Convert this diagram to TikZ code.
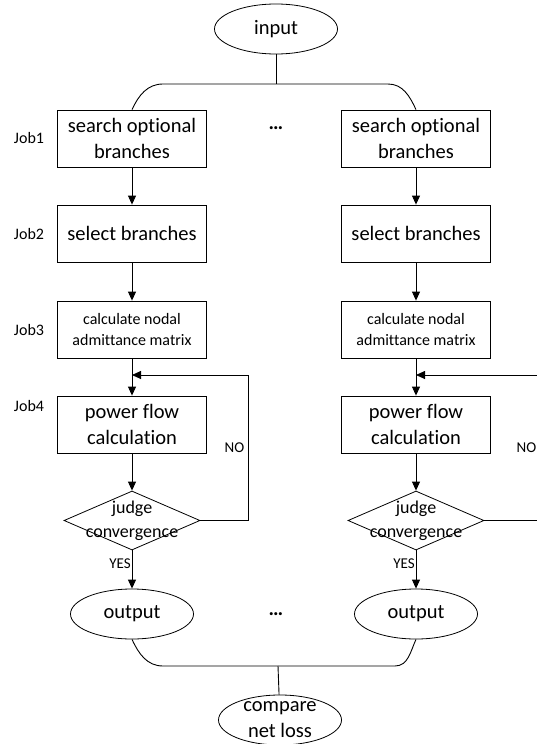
\documentclass[tikz,border=0pt]{standalone}
\usepackage{fontspec}
\setmainfont{Carlito}[Ligatures={NoCommon}]
\usetikzlibrary{positioning,arrows.meta,shapes.geometric}
\tikzset{
  arr/.style={-{Triangle[length=9pt,width=8pt]},line width=0.9pt},
  conn/.style={line width=0.9pt},
  jobbox/.style={draw,line width=0.8pt,minimum width=149pt,minimum height=57pt,
    align=center,inner sep=2pt,font=\fontsize{20.5}{25.5}\selectfont},
  smallbox/.style={jobbox,font=\fontsize{16}{21}\selectfont},
  term/.style={ellipse,draw,line width=0.8pt,minimum width=123pt,minimum height=50pt,
    inner sep=0pt,font=\fontsize{20.5}{25.5}\selectfont},
  decide/.style={diamond,draw,line width=0.8pt,minimum width=136pt,minimum height=59pt,inner sep=0pt},
  intext/.style={align=center,inner sep=0pt},
  joblbl/.style={font=\fontsize{15}{18}\selectfont},
  dots/.style={font=\fontsize{20.5}{25}\selectfont\bfseries},
}
\begin{document}
\begin{tikzpicture}[x=1pt,y=-1pt]
  \useasboundingbox (0,0) rectangle (536,744);
  \node[term] (in) at (276,29) {input};
  % two parallel job columns
  \foreach \c/\x/\lx in {a/132/248,b/416/540}{
    \node[jobbox] (s\c) at (\x,138.5) {search optional\\branches};
    \node[jobbox] (b\c) at (\x,233.5) {select branches};
    \node[smallbox] (c\c) at (\x,329.5) {calculate nodal\\admittance matrix};
    \node[jobbox] (p\c) at (\x,424.5) {power flow\\calculation};
    \node[decide,label={[intext,font=\fontsize{18}{24}\selectfont]center:judge\\convergence}] (d\c) at (\x,520.5) {};
    \node[term] (o\c) at (\x,614) {output};
    \coordinate (m\c) at (\x,375);
    \coordinate (r\c) at (\lx,375);
    \draw[arr] (s\c) -- (b\c);
    \draw[arr] (b\c) -- (c\c);
    \draw[arr] (c\c) -- (p\c);
    \draw[arr] (p\c) -- (d\c);
    \draw[arr] (d\c.east) -| (r\c) -- (m\c);
    \draw[arr] (d\c) -- (o\c);
    \node[joblbl] (no\c) at (\lx-13.5,448) {NO};
    \node[joblbl,anchor=east,inner sep=1pt] (yes\c) at (\x,564) {YES};
  }
  \foreach \n/\y in {1/138,2/234,3/330,4/406}
    \node[joblbl,font=\fontsize{16}{19}\selectfont] (job\n) at (29,\y) {Job\n};
  \node[dots] (dt) at (276,128) {…};
  \node[dots] (db) at (276,614) {…};
  % fork and merge
  \coordinate (tj) at (276,84);
  \coordinate (tl) at (163,84);
  \coordinate (tr) at (388,84);
  \draw[conn] (in) -- (tj);
  \draw[conn] (sa.north) to[out=65,in=180] (tl) -- (tr) to[out=0,in=115] (sb.north);
  \node[term,label={[intext,font=\fontsize{20.5}{26}\selectfont]center:compare\\net loss}] (cmp) at (280,720) {};
  \coordinate (bj) at (278,666);
  \coordinate (bl) at (163,666);
  \coordinate (br) at (395,666);
  \draw[conn] (oa.south) to[out=-65,in=180] (bl) -- (br) to[out=0,in=-115] (ob.south);
  \draw[conn] (bj) -- (cmp);
\end{tikzpicture}
\end{document}
